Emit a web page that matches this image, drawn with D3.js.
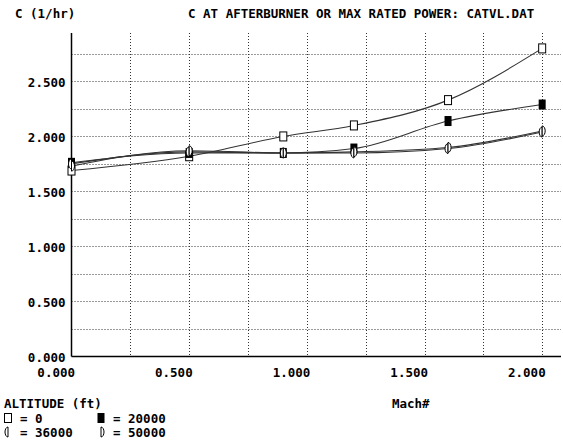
<!doctype html>
<html>
    <head>
        <script src="https://d3js.org/d3.v7.min.js"></script>
        <style>
            body { margin: 0; background: #fff; }
            text { font-family: "DejaVu Sans Mono", "Liberation Mono", monospace; font-weight: bold; font-size: 12.5px; fill: #000; }
            .domain { display: none; }
        </style>
    </head>
    <body>
        <svg id="chart" width="563" height="440"></svg>

        <script>
            // Mach numbers where the runs were taken
            var mach = [0, 0.5, 0.9, 1.2, 1.6, 2.0];

            // C (1/hr) per altitude
            var alt0     = [1.69, 1.82, 2.00, 2.10, 2.33, 2.80];
            var alt20000 = [1.76, 1.85, 1.85, 1.89, 2.14, 2.29];
            var alt36000 = [1.75, 1.86, 1.85, 1.85, 1.89, 2.04];
            var alt50000 = [1.73, 1.87, 1.85, 1.86, 1.90, 2.05];

            var altitudes = ["0", "20000", "36000", "50000"];
            var xTicks = [0, 0.5, 1.0, 1.5, 2.0];
            var yTicks = [0, 0.5, 1.0, 1.5, 2.0, 2.5];

            var svg = d3.select("#chart");

            var xScale = d3.scaleLinear().domain([0, 2.08]).range([71.5, 561]);
            var yScale = d3.scaleLinear().domain([0, 2.94]).range([356.5, 33]);

            // dotted grid every 0.25
            var grid = svg.append("g")
                .attr("stroke", "#333")
                .attr("stroke-width", 1)
                .attr("stroke-dasharray", "1,2");

            grid.selectAll("line.v")
                .data(d3.range(0.25, 2.01, 0.25))
                .enter()
                .append("line")
                    .attr("class", "v")
                    .attr("x1", d => Math.round(xScale(d)) + 0.5)
                    .attr("x2", d => Math.round(xScale(d)) + 0.5)
                    .attr("y1", yScale.range()[1])
                    .attr("y2", yScale.range()[0]);

            grid.selectAll("line.h")
                .data(d3.range(0.25, 2.76, 0.25))
                .enter()
                .append("line")
                    .attr("class", "h")
                    .attr("x1", xScale.range()[0])
                    .attr("x2", xScale.range()[1])
                    .attr("y1", d => Math.round(yScale(d)) + 0.5)
                    .attr("y2", d => Math.round(yScale(d)) + 0.5);

            // axes
            var fmt = d3.format(".3f");

            var xAxis = d3.axisBottom(xScale).tickValues(xTicks).tickSize(0).tickFormat(fmt);
            var gx = svg.append("g").attr("transform", "translate(0,356.5)").call(xAxis);
            gx.selectAll("text").attr("text-anchor", "end").attr("x", 3).attr("y", 12).attr("dy", "0.71em");

            var yAxis = d3.axisLeft(yScale).tickValues(yTicks).tickSize(0).tickFormat(fmt);
            var gy = svg.append("g").attr("transform", "translate(71.5,0)").call(yAxis);
            gy.selectAll("text").attr("x", -6).attr("dy", "0.4em");

            svg.append("line")
                .attr("x1", 71.5).attr("x2", 71.5)
                .attr("y1", yScale.range()[1]).attr("y2", yScale.range()[0])
                .attr("stroke", "#000").attr("stroke-width", 1.5);
            svg.append("line")
                .attr("x1", 71.5).attr("x2", xScale.range()[1])
                .attr("y1", 356.5).attr("y2", 356.5)
                .attr("stroke", "#000").attr("stroke-width", 1.5);

            // curves
            var series = [alt0, alt20000, alt36000, alt50000];
            var line = d3.line()
                .x((d, i) => xScale(mach[i]))
                .y(d => yScale(d))
                .curve(d3.curveMonotoneX);

            svg.selectAll("path.curve")
                .data(series)
                .enter()
                .append("path")
                    .attr("class", "curve")
                    .attr("d", line)
                    .attr("fill", "none")
                    .attr("stroke", "#333")
                    .attr("stroke-width", 1.1);

            // marker shapes
            function drawMarker(g, kind) {
                if (kind === 0) {
                    g.append("rect").attr("x", -3.5).attr("y", -4.5).attr("width", 7).attr("height", 9)
                        .attr("fill", "#fff").attr("stroke", "#000").attr("stroke-width", 1);
                } else if (kind === 1) {
                    g.append("rect").attr("x", -3.5).attr("y", -5).attr("width", 7).attr("height", 10)
                        .attr("fill", "#000");
                } else if (kind === 2) {
                    g.append("path").attr("d", "M0,-5 A3,5 0 0,0 0,5 Z")
                        .attr("fill", "#fff").attr("stroke", "#000").attr("stroke-width", 1);
                } else {
                    g.append("path").attr("d", "M0,-5 A3,5 0 0,1 0,5 Z")
                        .attr("fill", "#fff").attr("stroke", "#000").attr("stroke-width", 1);
                }
            }

            series.forEach(function(values, k) {
                values.forEach(function(v, i) {
                    var g = svg.append("g")
                        .attr("transform", "translate(" + xScale(mach[i]) + "," + yScale(v) + ")");
                    drawMarker(g, k);
                });
            });

            // titles
            svg.append("text").attr("x", 15).attr("y", 18).text("C (1/hr)");
            svg.append("text").attr("x", 188).attr("y", 18).text("C AT AFTERBURNER OR MAX RATED POWER: CATVL.DAT");
            svg.append("text").attr("x", 392).attr("y", 408).text("Mach#");

            // legend
            svg.append("text").attr("x", 4).attr("y", 408).text("ALTITUDE (ft)");
            var legendPos = [[8, 418], [101, 418], [8, 432], [101, 432]];
            altitudes.forEach(function(a, k) {
                var g = svg.append("g").attr("transform", "translate(" + legendPos[k][0] + "," + legendPos[k][1] + ")");
                drawMarker(g, k);
                svg.append("text")
                    .attr("x", legendPos[k][0] + 12)
                    .attr("y", legendPos[k][1] + 4.5)
                    .text("= " + a);
            });
        </script>
    </body>
</html>
